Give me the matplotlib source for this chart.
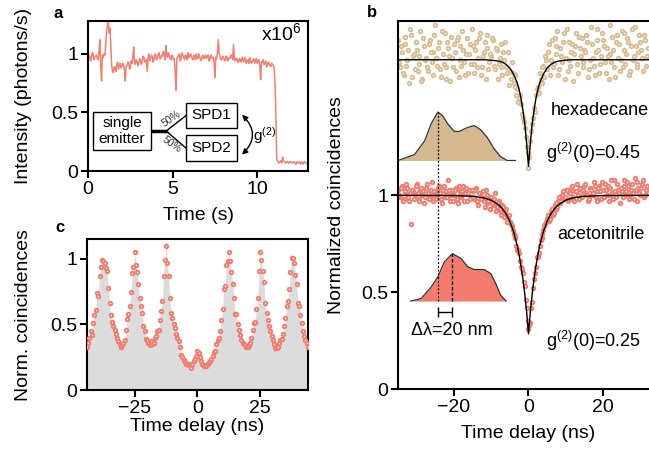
import numpy as np
import matplotlib
matplotlib.use('Agg')
import matplotlib.pyplot as plt
from matplotlib.patches import FancyArrowPatch, Rectangle

# ---------------- data ----------------
# panel a: intensity trace (x1e6 photons/s), 0.05 s bins (two interleaved lists)
time_a_even = np.round(np.arange(0, 13.01, 0.1), 2)
intensity_a_even = [
    0.95, 0.98, 0.96, 1.00, 0.97, 0.99, 0.95, 1.12, 0.77, 0.97,
    0.99, 1.20, 1.27, 1.22, 0.90, 0.84, 0.88, 0.91, 0.87, 0.92,
    0.89, 0.91, 0.77, 0.90, 0.93, 0.88, 0.92, 1.06, 0.91, 0.94,
    0.92, 0.95, 0.93, 0.97, 0.94, 0.85, 1.00, 0.96, 0.98, 0.95,
    0.99, 0.97, 1.01, 0.96, 0.98, 1.00, 1.07, 0.97, 0.99, 0.95,
    0.98, 0.96, 0.69, 0.97, 1.00, 0.96, 0.99, 0.95, 0.98, 1.01,
    0.97, 0.99, 0.95, 0.98, 1.00, 0.96, 0.98, 0.94, 0.99, 0.97,
    0.96, 0.99, 0.95, 0.98, 0.97, 0.80, 0.96, 1.12, 0.98, 0.95,
    0.97, 0.94, 0.98, 0.95, 0.96, 0.99, 1.08, 0.94, 0.96, 0.93,
    0.95, 0.97, 0.93, 0.96, 0.94, 0.92, 0.95, 0.93, 0.96, 0.94,
    0.92, 0.95, 0.78, 0.93, 0.91, 0.94, 0.90, 0.92, 0.89, 0.91,
    0.88, 0.50, 0.08, 0.07, 0.09, 0.12, 0.08, 0.07, 0.08, 0.07,
    0.08, 0.07, 0.08, 0.06, 0.07, 0.08, 0.07, 0.06, 0.08, 0.07, 0.06,
]
time_a_odd = np.round(np.arange(0.05, 13.0, 0.1), 2)
intensity_a_odd = [
    0.99, 0.94, 1.01, 0.95, 0.98, 0.96, 1.02, 0.90, 0.99, 1.00,
    1.10, 1.25, 1.18, 1.05, 0.86, 0.89, 0.85, 0.93, 0.90, 0.88,
    0.92, 0.86, 0.89, 0.93, 0.87, 0.94, 0.97, 0.92, 0.95, 0.90,
    0.96, 0.91, 0.98, 0.93, 0.95, 0.97, 0.94, 0.99, 0.93, 1.00,
    0.95, 1.00, 0.96, 0.99, 1.02, 0.95, 0.99, 1.01, 0.96, 0.99,
    0.95, 0.85, 0.96, 0.99, 0.94, 1.01, 0.97, 0.99, 0.95, 0.97,
    1.00, 0.96, 0.99, 0.95, 0.97, 1.00, 0.95, 0.98, 0.96, 0.99,
    0.98, 0.94, 0.99, 0.96, 0.93, 0.97, 1.01, 1.00, 0.95, 0.98,
    0.95, 0.98, 0.94, 0.97, 0.99, 0.95, 0.97, 0.96, 0.93, 0.96,
    0.93, 0.95, 0.97, 0.92, 0.95, 0.97, 0.92, 0.95, 0.92, 0.96,
    0.94, 0.90, 0.93, 0.95, 0.92, 0.89, 0.93, 0.90, 0.92, 0.90,
    0.75, 0.10, 0.07, 0.08, 0.07, 0.09, 0.07, 0.08, 0.07, 0.08,
    0.07, 0.08, 0.06, 0.08, 0.07, 0.06, 0.08, 0.07, 0.07, 0.06,
]

# panel c: pulsed g2, 0.5 ns bins from -44 to 44 ns
delay_c = np.round(np.arange(-44, 44.01, 0.5), 2)
coinc_c = [
    0.33, 0.36, 0.40, 0.45, 0.42, 0.51, 0.57, 0.61, 0.74, 0.72, 0.87, 0.94, 0.99,
    0.98, 0.97, 0.93, 0.91, 0.78, 0.66, 0.57, 0.52, 0.49, 0.46, 0.43, 0.40, 0.37,
    0.35, 0.33, 0.34, 0.36, 0.38, 0.46, 0.54, 0.58, 0.64, 0.75, 0.89, 0.94,
    1.05, 0.95, 0.90, 0.81, 0.70, 0.64, 0.59, 0.49, 0.45, 0.39, 0.38, 0.36, 0.34,
    0.37, 0.35, 0.36, 0.40, 0.41, 0.45, 0.46, 0.53, 0.60, 0.68, 0.87, 0.99,
    1.10, 0.97, 0.87, 0.70, 0.59, 0.55, 0.50, 0.47, 0.43, 0.40, 0.37, 0.33, 0.27,
    0.25, 0.23, 0.21, 0.20, 0.20, 0.19, 0.20, 0.17, 0.20, 0.22, 0.24, 0.26,
    0.30,
    0.28, 0.25, 0.22, 0.20, 0.18, 0.19, 0.18, 0.20, 0.21, 0.22, 0.24, 0.26,
    0.29, 0.30, 0.35, 0.38, 0.40, 0.45, 0.53, 0.62, 0.77, 0.79, 0.95, 0.98,
    1.05, 0.98, 0.90, 0.81, 0.70, 0.58, 0.58, 0.50, 0.46, 0.42, 0.38, 0.36, 0.35,
    0.34, 0.33, 0.33, 0.34, 0.36, 0.40, 0.46, 0.51, 0.52, 0.62, 0.70, 0.91,
    1.05, 0.99, 0.91, 0.82, 0.66, 0.59, 0.53, 0.49, 0.45, 0.41, 0.38, 0.35, 0.32,
    0.32, 0.33, 0.36, 0.38, 0.39, 0.43, 0.49, 0.55, 0.64, 0.68, 0.77, 0.90,
    1.01, 1.01, 0.97, 0.88, 0.81, 0.66, 0.64, 0.57, 0.51, 0.45, 0.41, 0.38, 0.36, 0.33,
]

# panel b: CW g2, 0.25 ns bins (two interleaved lists, each 0.5 ns apart)
delay_b_even = np.round(np.arange(-35, 32.01, 0.5), 2)
hexadecane_b_even = [  # offset by +0.7
    1.80, 1.66, 1.74, 1.62, 1.78, 1.70, 1.58, 1.83, 1.72, 1.65,
    1.75, 1.68, 1.85, 1.60, 1.77, 1.71, 1.64, 1.80, 1.69, 1.74,
    1.88, 1.67, 1.79, 1.61, 1.73, 1.84, 1.66, 1.76, 1.59, 1.71,
    1.78, 1.64, 1.82, 1.70, 1.67, 1.75, 1.62, 1.81, 1.73, 1.68,
    1.77, 1.63, 1.79, 1.71, 1.84, 1.66, 1.74, 1.60, 1.76, 1.69,
    1.72, 1.80, 1.65, 1.75, 1.68, 1.78, 1.62, 1.70, 1.66, 1.74,
    1.64, 1.69, 1.58, 1.62, 1.55, 1.50, 1.47, 1.40, 1.35, 1.25,
    1.14,
    1.28, 1.37, 1.45, 1.52, 1.56, 1.63, 1.58, 1.67, 1.72, 1.65,
    1.78, 1.70, 1.66, 1.81, 1.73, 1.62, 1.76, 1.69, 1.84, 1.71,
    1.64, 1.79, 1.74, 1.59, 1.77, 1.68, 1.82, 1.72, 1.66, 1.75,
    1.83, 1.61, 1.70, 1.78, 1.67, 1.74, 1.86, 1.63, 1.72, 1.80,
    1.69, 1.76, 1.60, 1.73, 1.82, 1.66, 1.79, 1.71, 1.64, 1.85,
    1.75, 1.68, 1.81, 1.62, 1.77, 1.70, 1.87, 1.66, 1.74, 1.79,
    1.71, 1.83, 1.67, 1.76,
]
acetonitrile_b_even = [
    1.03, 0.99, 1.05, 0.98, 1.01, 1.04, 0.97, 0.85, 1.02, 1.00,
    1.06, 0.98, 1.03, 1.00, 0.96, 1.04, 1.01, 0.99, 1.07, 0.97,
    1.02, 1.00, 1.05, 0.98, 1.03, 0.99, 1.01, 1.08, 0.97, 1.03,
    1.00, 1.04, 0.96, 1.02, 0.99, 1.05, 1.01, 0.97, 1.03, 0.99,
    1.02, 0.98, 1.04, 0.95, 1.01, 0.99, 0.97, 1.03, 0.96, 0.98,
    0.99, 0.95, 1.01, 0.94, 0.97, 0.92, 0.95, 0.89, 0.93, 0.88,
    0.86, 0.84, 0.80, 0.78, 0.72, 0.70, 0.63, 0.60, 0.53, 0.42,
    0.31,
    0.34, 0.45, 0.57, 0.63, 0.68, 0.74, 0.78, 0.82, 0.85, 0.88,
    0.87, 0.92, 0.90, 0.95, 0.93, 0.97, 0.96, 1.00, 0.98, 1.03,
    0.97, 1.01, 1.04, 0.99, 1.02, 1.06, 0.98, 1.03, 1.00, 1.05,
    1.01, 0.97, 1.04, 1.00, 1.07, 0.99, 1.02, 1.05, 0.98, 1.03,
    1.06, 1.00, 0.97, 1.04, 1.01, 1.08, 0.99, 1.03, 0.96, 1.02,
    1.05, 1.00, 1.07, 0.98, 1.03, 1.01, 1.09, 0.97, 1.04, 1.00,
    1.06, 0.99, 1.03, 1.01,
]
delay_b_odd = np.round(np.arange(-34.75, 31.76, 0.5), 2)
hexadecane_b_odd = [
    1.69, 1.77, 1.63, 1.82, 1.67, 1.75, 1.86, 1.61, 1.73, 1.79,
    1.64, 1.72, 1.59, 1.81, 1.70, 1.66, 1.78, 1.74, 1.62, 1.83,
    1.71, 1.76, 1.65, 1.85, 1.68, 1.60, 1.79, 1.72, 1.82, 1.66,
    1.74, 1.80, 1.61, 1.77, 1.85, 1.69, 1.73, 1.63, 1.78, 1.86,
    1.68, 1.75, 1.66, 1.81, 1.62, 1.72, 1.79, 1.83, 1.65, 1.73,
    1.81, 1.67, 1.76, 1.60, 1.71, 1.66, 1.74, 1.79, 1.63, 1.57,
    1.60, 1.63, 1.56, 1.52, 1.48, 1.52, 1.42, 1.38, 1.30, 1.22,
    1.20, 1.33, 1.40, 1.43, 1.55, 1.53, 1.60, 1.66, 1.61, 1.70,
    1.74, 1.62, 1.80, 1.68, 1.77, 1.85, 1.65, 1.72, 1.79, 1.60,
    1.86, 1.70, 1.67, 1.78, 1.73, 1.84, 1.63, 1.76, 1.81, 1.69,
    1.74, 1.79, 1.65, 1.87, 1.71, 1.62, 1.80, 1.75, 1.68, 1.84,
    1.77, 1.63, 1.72, 1.88, 1.69, 1.75, 1.61, 1.83, 1.78, 1.70,
    1.66, 1.84, 1.73, 1.79, 1.64, 1.86, 1.72, 1.77, 1.68, 1.83,
    1.75, 1.64, 1.80, 1.72,
]
acetonitrile_b_odd = [
    1.00, 1.04, 0.97, 1.02, 1.06, 0.99, 1.01, 1.03, 0.98, 1.05,
    1.01, 0.97, 1.04, 1.02, 0.99, 1.06, 0.98, 1.03, 1.00, 1.02,
    0.98, 1.04, 1.01, 0.96, 1.05, 1.02, 0.99, 1.03, 1.00, 0.97,
    1.03, 0.98, 1.05, 1.00, 1.02, 0.97, 1.04, 1.01, 0.98, 1.03,
    0.99, 1.03, 0.97, 1.01, 0.98, 1.02, 0.94, 1.00, 0.97, 0.93,
    0.96, 0.98, 0.92, 0.96, 0.93, 0.90, 0.94, 0.91, 0.86, 0.90,
    0.85, 0.82, 0.79, 0.74, 0.72, 0.66, 0.62, 0.55, 0.46, 0.35,
    0.33, 0.42, 0.52, 0.60, 0.68, 0.70, 0.77, 0.80, 0.84, 0.86,
    0.90, 0.88, 0.93, 0.91, 0.96, 0.94, 0.99, 0.97, 1.02, 0.99,
    1.03, 0.98, 1.01, 1.05, 0.97, 1.02, 1.00, 1.04, 0.99, 1.03,
    1.06, 1.00, 0.98, 1.03, 1.01, 1.05, 0.97, 1.04, 1.02, 1.07,
    0.99, 1.03, 1.05, 1.00, 1.08, 0.98, 1.02, 1.06, 1.01, 1.04,
    0.99, 1.08, 1.02, 1.05, 1.00, 1.06, 0.98, 1.03, 1.07, 1.01,
    1.04, 1.08, 1.00, 1.05,
]
fit_x = [-35, -20, -15, -12, -10, -8, -7, -6, -5, -4, -3, -2.5, -2, -1.5, -1, -0.5, 0,
         0.5, 1, 1.5, 2, 2.5, 3, 4, 5, 6, 7, 8, 10, 12, 15, 20, 35]
fit_acetonitrile = [1.0, 0.999, 0.995, 0.987, 0.975, 0.951, 0.931, 0.904, 0.866, 0.813,
                    0.739, 0.691, 0.635, 0.569, 0.491, 0.399, 0.285,
                    0.399, 0.491, 0.569, 0.635, 0.691, 0.739, 0.813, 0.866, 0.904,
                    0.931, 0.951, 0.975, 0.987, 0.995, 0.999, 1.0]
fit_hexadecane = [1.70, 1.70, 1.70, 1.70, 1.698, 1.693, 1.687, 1.676, 1.657, 1.625,
                  1.58, 1.545, 1.50, 1.44, 1.37, 1.27, 1.15,
                  1.27, 1.37, 1.44, 1.50, 1.545, 1.58, 1.625, 1.657, 1.676,
                  1.687, 1.693, 1.698, 1.70, 1.70, 1.70, 1.70]

# emission spectra insets (drawn in panel-b data units)
spec_hex_x = [-35, -30.6, -27.9, -26.1, -24.3, -23.0, -21.7, -19.9, -18.6, -16.4,
              -14.6, -12.9, -11.1, -9.2, -7.5, -5.7, -3.5]
spec_hex_y = [1.18, 1.21, 1.28, 1.37, 1.43, 1.41, 1.37, 1.33, 1.33, 1.35,
              1.36, 1.34, 1.30, 1.24, 1.20, 1.18, 1.18]
spec_ace_x = [-31.6, -28.8, -26.1, -24.3, -22.6, -20.4, -18.1, -16.3, -14.6,
              -11.9, -10.1, -8.8, -7.5, -6.0]
spec_ace_y = [0.454, 0.467, 0.527, 0.579, 0.656, 0.699, 0.674, 0.631, 0.617,
              0.617, 0.596, 0.545, 0.485, 0.454]

# ---------------- style ----------------
plt.rcParams['font.family'] = ['Liberation Sans', 'DejaVu Sans']
plt.rcParams['mathtext.fontset'] = 'custom'
plt.rcParams['mathtext.rm'] = 'Liberation Sans'
plt.rcParams['mathtext.it'] = 'Liberation Sans:italic'
plt.rcParams['mathtext.default'] = 'regular'
plt.rcParams['axes.linewidth'] = 1.5
for ax_ in ('xtick', 'ytick'):
    plt.rcParams[f'{ax_}.major.width'] = 1.5
    plt.rcParams[f'{ax_}.major.size'] = 5
    plt.rcParams[f'{ax_}.labelsize'] = 14
    plt.rcParams[f'{ax_}.major.pad'] = 2
plt.rcParams['axes.labelsize'] = 14

SALMON = '#F28072'
SALMON_PT = '#F07E70'
TAN_PT = '#D9BD95'
TAN_FILL = '#D6B88E'
ACE_FILL = '#F47C6E'
MS, MEW = 2.5, 1.4

fig = plt.figure(figsize=(6.49, 4.49), dpi=100)

# ---------------- panel a ----------------
order = np.argsort(np.concatenate([time_a_even, time_a_odd]))
t_all = np.concatenate([time_a_even, time_a_odd])[order]
i_all = np.concatenate([intensity_a_even, intensity_a_odd])[order]
ax_a = fig.add_axes([0.1356, 0.619, 0.339, 0.334])
ax_a.plot(t_all, i_all, color=SALMON, lw=1.1)
ax_a.set_xlim(0, 13)
ax_a.set_ylim(0, 1.28)
ax_a.set_xticks([0, 5, 10])
ax_a.set_yticks([0, 0.5, 1])
ax_a.set_yticklabels(['0', '0.5', '1'])
ax_a.set_xlabel('Time (s)')
ax_a.set_ylabel('Intensity (photons/s)')
ax_a.xaxis.set_label_coords(0.5, -0.24)
ax_a.yaxis.set_label_coords(-0.255, 0.5)
ax_a.text(10.2, 1.18, 'x10$^6$', fontsize=14, ha='left', va='center')

# inset schematic
def box(ax, x0, y0, x1, y1, label):
    ax.add_patch(Rectangle((x0, y0), x1 - x0, y1 - y0, facecolor='white',
                           edgecolor='black', lw=1.0, zorder=5))
    ax.text((x0 + x1) / 2, (y0 + y1) / 2, label, ha='center', va='center',
            fontsize=11, zorder=6, linespacing=1.1)

box(ax_a, 0.30, 0.18, 3.73, 0.504, 'single\nemitter')
box(ax_a, 5.80, 0.37, 8.82, 0.58, 'SPD1')
box(ax_a, 5.80, 0.085, 8.82, 0.31, 'SPD2')
ax_a.plot([3.73, 4.62], [0.342, 0.342], color='black', lw=2.5, zorder=4)
ax_a.plot([4.62, 5.80], [0.342, 0.475], color='black', lw=1.0, zorder=4)
ax_a.plot([4.62, 5.80], [0.342, 0.195], color='black', lw=1.0, zorder=4)
ax_a.text(4.95, 0.445, '50%', fontsize=7.5, rotation=35, ha='center', va='center', color='#333333')
ax_a.text(4.95, 0.23, '50%', fontsize=7.5, rotation=-35, ha='center', va='center', color='#333333')
arr = FancyArrowPatch((9.1, 0.48), (9.1, 0.14), arrowstyle='<|-|>',
                      connectionstyle='arc3,rad=-0.5', mutation_scale=8,
                      shrinkA=0, shrinkB=0, color='black', lw=1.0, zorder=6)
ax_a.add_patch(arr)
ax_a.text(9.75, 0.30, 'g$^{(2)}$', fontsize=11, ha='left', va='center')

# ---------------- panel c ----------------
ax_c = fig.add_axes([0.134, 0.1314, 0.3405, 0.336])
ax_c.fill_between(delay_c, 0, coinc_c, color='#DCDCDC', lw=0, zorder=1)
ax_c.plot(delay_c, coinc_c, ls='none', marker='o', ms=MS, mew=MEW,
          mec=SALMON_PT, mfc='white', zorder=3)
ax_c.set_xlim(-44, 44)
ax_c.set_ylim(0, 1.15)
ax_c.set_xticks([-25, 0, 25])
ax_c.set_yticks([0, 0.5, 1])
ax_c.set_yticklabels(['0', '0.5', '1'])
ax_c.set_xlabel('Time delay (ns)')
ax_c.set_ylabel('Norm. coincidences')
ax_c.xaxis.set_label_coords(0.5, -0.185)
ax_c.yaxis.set_label_coords(-0.249, 0.5)

# ---------------- panel b ----------------
ax_b = fig.add_axes([0.6133, 0.1336, 0.402, 0.8196])
for dx, hx, ac in ((delay_b_even, hexadecane_b_even, acetonitrile_b_even),
                   (delay_b_odd, hexadecane_b_odd, acetonitrile_b_odd)):
    ax_b.plot(dx, hx, ls='none', marker='o', ms=MS, mew=MEW,
              mec=TAN_PT, mfc='white', zorder=2)
    ax_b.plot(dx, ac, ls='none', marker='o', ms=MS, mew=MEW,
              mec=SALMON_PT, mfc='white', zorder=2)
ax_b.plot(fit_x, fit_hexadecane, color='black', lw=1.0, zorder=3)
ax_b.plot(fit_x, fit_acetonitrile, color='black', lw=1.0, zorder=3)
ax_b.fill_between(spec_hex_x, spec_hex_y[0], spec_hex_y, color=TAN_FILL, lw=0, zorder=4)
ax_b.plot(spec_hex_x, spec_hex_y, color='#333333', lw=0.9, zorder=5)
ax_b.fill_between(spec_ace_x, spec_ace_y[0], spec_ace_y, color=ACE_FILL, lw=0, zorder=4)
ax_b.plot(spec_ace_x, spec_ace_y, color='#333333', lw=0.9, zorder=5)
ax_b.plot([-24.3, -24.3], [0.454, 1.43], color='black', lw=0.9, ls=(0, (1.5, 1.5)), zorder=6)
ax_b.plot([-20.4, -20.4], [0.454, 0.699], color='black', lw=1.0, ls=(0, (2.5, 1.5)), zorder=6)
ax_b.errorbar([-22.35], [0.40], xerr=[[1.95], [1.95]], fmt='none', ecolor='black',
              elinewidth=1.0, capsize=3.5, capthick=1.0, zorder=6)
ax_b.text(-31.6, 0.30, 'Δλ=20 nm', fontsize=13, ha='left', va='center')
ax_b.text(5.9, 1.44, 'hexadecane', fontsize=13, ha='left', va='center')
ax_b.text(4.8, 1.22, 'g$^{(2)}$(0)=0.45', fontsize=13, ha='left', va='center')
ax_b.text(7.6, 0.80, 'acetonitrile', fontsize=13, ha='left', va='center')
ax_b.text(4.8, 0.25, 'g$^{(2)}$(0)=0.25', fontsize=13, ha='left', va='center')
ax_b.set_xlim(-35, 35)
ax_b.set_ylim(0, 1.9)
ax_b.set_xticks([-20, 0, 20])
ax_b.set_yticks([0, 0.5, 1])
ax_b.set_yticklabels(['0', '0.5', '1'])
ax_b.set_xlabel('Time delay (ns)')
ax_b.set_ylabel('Normalized coincidences')
ax_b.xaxis.set_label_coords(0.5, -0.098)
ax_b.yaxis.set_label_coords(-0.203, 0.5)

# panel letters
fig.text(0.089, 0.971, 'a', fontsize=12, fontweight='bold', ha='center', va='center')
fig.text(0.573, 0.973, 'b', fontsize=12, fontweight='bold', ha='center', va='center')
fig.text(0.092, 0.494, 'c', fontsize=12, fontweight='bold', ha='center', va='center')

fig.savefig('out.png', dpi=100)
